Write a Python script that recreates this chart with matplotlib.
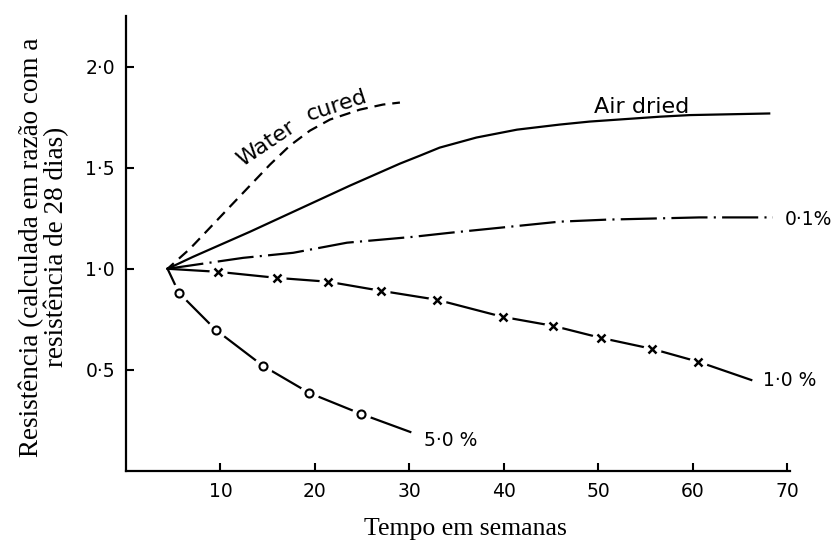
import matplotlib
matplotlib.use("Agg")
import matplotlib.pyplot as plt

plt.rcParams["lines.scale_dashes"] = False

# Common starting point (28-day reference strength)
origin_week = 4.4
origin_ratio = 1.0

# Water cured (dashed)
water_weeks = [4.4, 6.77, 8.89, 11.0, 13.12, 15.24, 17.35, 19.47, 21.6, 24.76, 27.2, 29.0]
water_ratio = [1.0, 1.099, 1.203, 1.307, 1.411, 1.515, 1.609, 1.683, 1.738, 1.787, 1.812, 1.822]

# Air dried (solid)
air_weeks = [4.4, 7.09, 13.12, 18.41, 23.7, 29.0, 31.1, 33.2, 37.1, 41.4, 45.9, 49.1, 56.5, 59.7, 68.1]
air_ratio = [1.0, 1.059, 1.183, 1.297, 1.411, 1.520, 1.559, 1.599, 1.649, 1.688, 1.713, 1.728, 1.752, 1.760, 1.768]

# 0.1 % (dash-dot)
p01_weeks = [4.4, 12.4, 17.7, 23.4, 30.4, 34.3, 39.6, 45.9, 50.9, 60.7, 68.5]
p01_ratio = [1.0, 1.054, 1.079, 1.129, 1.158, 1.178, 1.203, 1.233, 1.243, 1.254, 1.254]

# 1.0 % (crosses)
p10_weeks = [9.74, 15.98, 21.4, 27.0, 32.9, 39.9, 45.2, 50.3, 55.7, 60.6]
p10_ratio = [0.985, 0.955, 0.936, 0.891, 0.847, 0.762, 0.718, 0.658, 0.604, 0.540]
p10_end = (66.2, 0.450)

# 5.0 % (circles)
p50_weeks = [5.6, 9.5, 14.5, 19.4, 24.9]
p50_ratio = [0.881, 0.698, 0.520, 0.386, 0.282]
p50_end = (30.1, 0.193)

x_ticks = [10, 20, 30, 40, 50, 60, 70]
y_ticks = [0.5, 1.0, 1.5, 2.0]
y_tick_labels = ["0·5", "1·0", "1·5", "2·0"]

fig = plt.figure(figsize=(8.34, 5.4), dpi=100)
ax = fig.add_axes([126 / 834, 69 / 540, 664 / 834, 455 / 540])
ax.set_xlim(0, 70.3)
ax.set_ylim(0, 2.25)

lw = 1.6
ink = "black"

ax.plot(water_weeks, water_ratio, color=ink, lw=lw, linestyle=(2, (8, 5)), zorder=5)
ax.plot(air_weeks, air_ratio, color=ink, lw=lw, zorder=5)
ax.plot(p01_weeks, p01_ratio, color=ink, lw=lw,
        linestyle=(0, (26, 4.5, 1.5, 4.5)), zorder=5)

# 1.0 % curve: line broken around each cross
x10 = [origin_week] + p10_weeks + [p10_end[0]]
y10 = [origin_ratio] + p10_ratio + [p10_end[1]]
ax.plot(x10, y10, color=ink, lw=lw, zorder=2)
ax.plot(p10_weeks, p10_ratio, linestyle="none", marker="o", ms=13,
        mfc="white", mec="none", zorder=3)
ax.plot(p10_weeks, p10_ratio, linestyle="none", marker="x", ms=6,
        mec=ink, mew=1.8, zorder=4)

# 5.0 % curve: line broken around each circle
x50 = [origin_week] + p50_weeks + [p50_end[0]]
y50 = [origin_ratio] + p50_ratio + [p50_end[1]]
ax.plot(x50, y50, color=ink, lw=lw, zorder=2)
ax.plot(p50_weeks, p50_ratio, linestyle="none", marker="o", ms=14,
        mfc="white", mec="none", zorder=3)
ax.plot(p50_weeks, p50_ratio, linestyle="none", marker="o", ms=5.8,
        mfc="white", mec=ink, mew=1.5, zorder=4)

# Curve labels
lab = dict(family="DejaVu Sans", color=ink)
ax.text(14.8, 1.620, "Water", rotation=34, ha="center", va="center", fontsize=16, **lab)
ax.text(22.3, 1.805, "cured", rotation=18, ha="center", va="center", fontsize=16, **lab)
ax.text(54.6, 1.802, "Air dried", ha="center", va="center", fontsize=16, **lab)
ax.text(69.7, 1.243, "0·1%", ha="left", va="center", fontsize=13.5, **lab)
ax.text(67.4, 0.450, "1·0 %", ha="left", va="center", fontsize=13.5, **lab)
ax.text(31.6, 0.153, "5·0 %", ha="left", va="center", fontsize=13.5, **lab)

# Axes styling
for side in ("top", "right"):
    ax.spines[side].set_visible(False)
for side in ("left", "bottom"):
    ax.spines[side].set_linewidth(1.6)
ax.set_xticks(x_ticks)
ax.set_yticks(y_ticks)
ax.set_yticklabels(y_tick_labels)
ax.tick_params(direction="in", length=6, width=1.5, labelsize=13.5, pad=8)
for t in ax.get_xticklabels() + ax.get_yticklabels():
    t.set_family("DejaVu Sans")

fig.text(465.5 / 834, 5 / 540, "Tempo em semanas", ha="center", va="baseline",
         family="Liberation Serif", fontsize=18.5)
fig.text(44 / 834, 1 - 247 / 540,
         "Resistência (calculada em razão com a\nresistência de 28 dias)",
         ha="center", va="center", rotation=90, multialignment="center",
         family="Liberation Serif", fontsize=19.5, linespacing=0.95)

fig.savefig("out.png", dpi=100)
